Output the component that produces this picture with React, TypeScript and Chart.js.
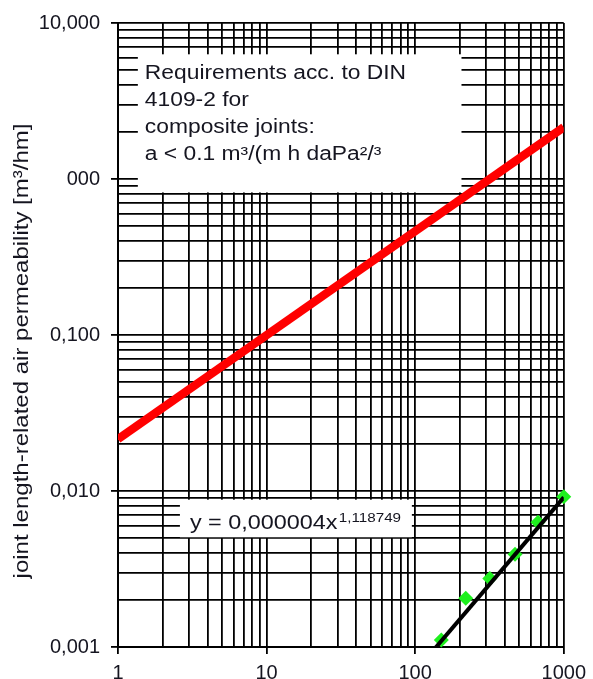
import React, { useEffect, useRef } from "react";
import { Chart, registerables } from "chart.js";

Chart.register(...registerables);

// ---- data ----
const xDecades = [1, 10, 100, 1000];
const xTickLabels = ["1", "10", "100", "1000"];
const yDecades = [0.001, 0.01, 0.1, 1, 10];
const yTickLabels = ["0,001", "0,010", "0,100", "000", "10,000"];

const requirementX = [1, 1000];
const requirementY = [0.0215, 2.15];

const trendX = [131, 1000];
const trendY = [0.00094, 0.0091];

const measuredX = [150, 219, 318, 470, 671, 1000];
const measuredY = [0.00111, 0.00205, 0.00275, 0.00393, 0.0063, 0.0092];

const yAxisTitle = "joint length-related air permeability [m³/hm]";
const requirementLines = [
  "Requirements acc. to DIN",
  "4109-2 for",
  "composite joints:",
  "a < 0.1 m³/(m h daPa²/³",
];
const equationMain = "y = 0,000004x";
const equationExp = "1,118749";

// annotation boxes in data coordinates
const requirementBoxX = [1.36, 205];
const requirementBoxY = [0.82, 6.3];
const equationBoxX = [2.61, 95];
const equationBoxY = [0.00505, 0.0088];

const FONT = '"Liberation Sans", Arial, sans-serif';
const TEXT = "#151520";

function logGrid(decades: number[]): number[] {
  const out: number[] = [];
  for (let i = 0; i < decades.length - 1; i++) {
    for (let k = 1; k <= 9; k++) out.push(parseFloat((decades[i] * k).toPrecision(6)));
  }
  out.push(decades[decades.length - 1]);
  return out;
}

const xGrid = logGrid(xDecades);
const yGrid = logGrid(yDecades);

const overlayPlugin = {
  id: "overlay",
  beforeDatasetsDraw(chart: any) {
    const { ctx } = chart;
    const xs = chart.scales.x;
    const ys = chart.scales.y;
    const box = (bx: number[], by: number[]) => {
      const l = xs.getPixelForValue(bx[0]);
      const r = xs.getPixelForValue(bx[1]);
      const t = ys.getPixelForValue(by[1]);
      const b = ys.getPixelForValue(by[0]);
      ctx.fillStyle = "#ffffff";
      ctx.fillRect(l, t, r - l, b - t);
      return { l, t };
    };
    ctx.save();
    const b1 = box(requirementBoxX, requirementBoxY);
    ctx.fillStyle = TEXT;
    ctx.textAlign = "left";
    ctx.textBaseline = "alphabetic";
    ctx.font = `19.5px ${FONT}`;
    requirementLines.forEach((line, i) => {
      ctx.save();
      ctx.translate(b1.l + 7, b1.t + 25 + i * 27);
      ctx.scale(1.17, 1);
      ctx.fillText(line, 0, 0);
      ctx.restore();
    });
    const b2 = box(equationBoxX, equationBoxY);
    ctx.fillStyle = TEXT;
    ctx.save();
    ctx.translate(b2.l + 10, b2.t + 29);
    ctx.scale(1.17, 1);
    ctx.font = `20px ${FONT}`;
    ctx.fillText(equationMain, 0, 0);
    const w = ctx.measureText(equationMain).width;
    ctx.font = `13px ${FONT}`;
    ctx.fillText(equationExp, w + 1, -7);
    ctx.restore();
    ctx.restore();
  },
  afterDraw(chart: any) {
    const { ctx } = chart;
    const ys = chart.scales.y;
    ctx.save();
    ctx.fillStyle = TEXT;
    ctx.font = `20px ${FONT}`;
    ctx.textAlign = "center";
    ctx.textBaseline = "alphabetic";
    ctx.translate(28, (ys.top + ys.bottom) / 2 + 16);
    ctx.rotate(-Math.PI / 2);
    ctx.scale(1.2, 1);
    ctx.fillText(yAxisTitle, 0, 0);
    ctx.restore();
  },
};

export default function App() {
  const ref = useRef<HTMLCanvasElement | null>(null);

  useEffect(() => {
    document.body.style.margin = "0";
    const canvas = ref.current;
    if (!canvas) return;

    const tickColor = (c: any) => (c.tick && c.tick.major ? "#000" : "rgba(0,0,0,0)");

    const chart = new Chart(canvas, {
      type: "scatter",
      data: {
        datasets: [
          {
            label: "requirement",
            data: requirementX.map((x, i) => ({ x, y: requirementY[i] })),
            showLine: true,
            borderColor: "#ff0000",
            borderWidth: 8.5,
            pointRadius: 0,
            clip: 0,
          },
          {
            label: "trend",
            data: trendX.map((x, i) => ({ x, y: trendY[i] })),
            showLine: true,
            borderColor: "#000000",
            borderWidth: 4,
            pointRadius: 0,
            clip: 0,
          },
          {
            label: "measured",
            data: measuredX.map((x, i) => ({ x, y: measuredY[i] })),
            showLine: false,
            pointStyle: "rectRot",
            pointRadius: 7.5,
            backgroundColor: "#1ef01e",
            borderColor: "#1ef01e",
            borderWidth: 0,
            clip: false,
          },
        ],
      } as any,
      options: {
        responsive: false,
        animation: false,
        layout: { padding: { top: 21, right: 29, left: 0, bottom: 0 } },
        plugins: {
          legend: { display: false },
          tooltip: { enabled: false },
        },
        scales: {
          x: {
            type: "logarithmic",
            min: 1,
            max: 1000,
            afterBuildTicks: (s: any) => {
              s.ticks = xGrid.map((v) => ({ value: v, major: xDecades.includes(v) }));
            },
            afterFit: (s: any) => {
              s.height = 32;
            },
            grid: {
              color: "#000",
              lineWidth: 1.8,
              tickLength: 7,
              tickColor,
              tickWidth: 1.8,
            },
            border: { display: true, color: "#000", width: 2 },
            ticks: {
              autoSkip: false,
              maxRotation: 0,
              minRotation: 0,
              padding: 7,
              color: TEXT,
              font: { family: FONT, size: 20 },
              callback: (v: any, i: number, ticks: any[]) => {
                const idx = xDecades.indexOf(ticks[i].value);
                return idx >= 0 ? xTickLabels[idx] : "";
              },
            },
          },
          y: {
            type: "logarithmic",
            min: 0.001,
            max: 10,
            afterBuildTicks: (s: any) => {
              s.ticks = yGrid.map((v) => ({ value: v, major: yDecades.includes(v) }));
            },
            afterFit: (s: any) => {
              s.width = 118;
            },
            grid: {
              color: "#000",
              lineWidth: 1.8,
              tickLength: 7,
              tickColor,
              tickWidth: 1.8,
            },
            border: { display: true, color: "#000", width: 2 },
            ticks: {
              autoSkip: false,
              padding: 11,
              color: TEXT,
              font: { family: FONT, size: 20 },
              callback: (v: any, i: number, ticks: any[]) => {
                const idx = yDecades.indexOf(ticks[i].value);
                return idx >= 0 ? yTickLabels[idx] : "";
              },
            },
          },
        },
      } as any,
      plugins: [overlayPlugin],
    });

    return () => chart.destroy();
  }, []);

  return (
    <div style={{ width: 593, height: 679, background: "#fff" }}>
      <canvas ref={ref} width={593} height={679} style={{ display: "block" }} />
    </div>
  );
}
